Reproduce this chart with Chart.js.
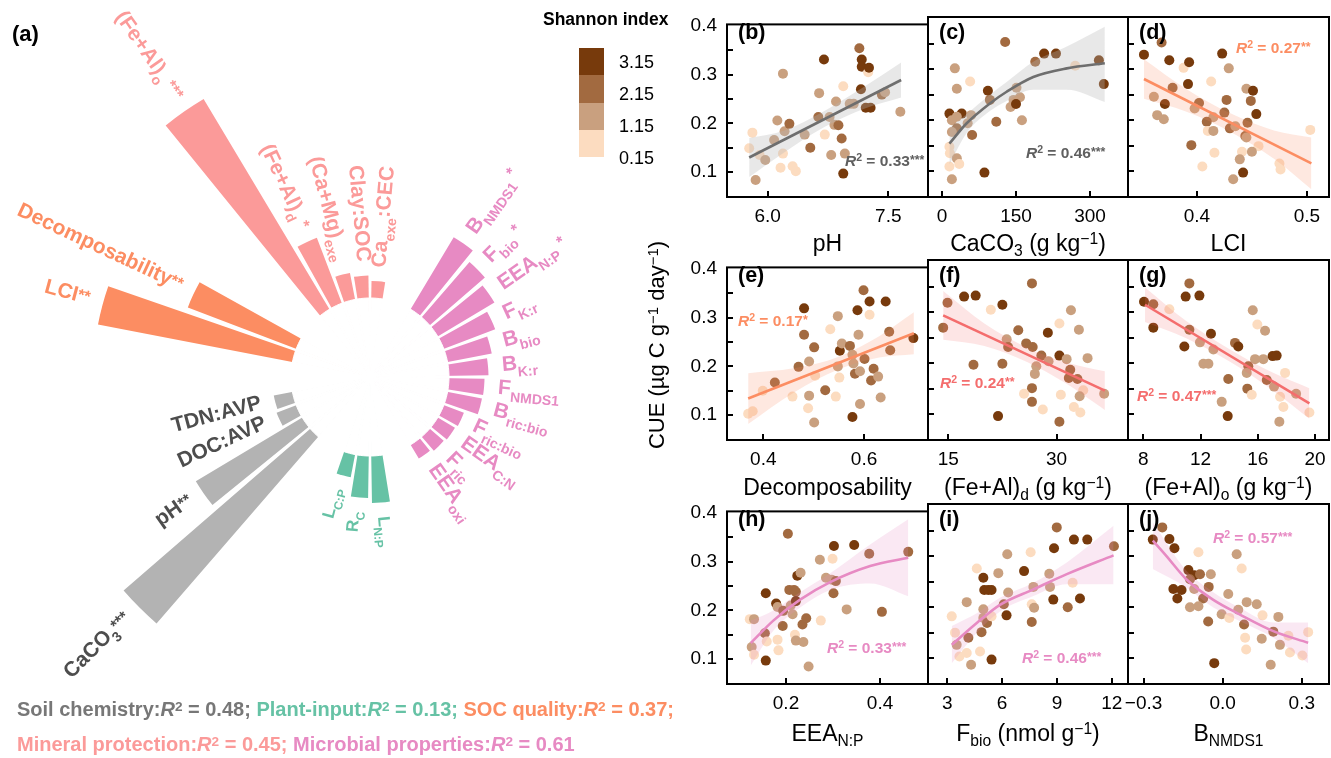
<!DOCTYPE html>
<html>
<head>
<meta charset="utf-8">
<script src="https://cdn.jsdelivr.net/npm/chart.js@4.4.1/dist/chart.umd.min.js"></script>
<style>
  body { margin: 0; background: #fff; }
  #wrap { position: relative; width: 1331px; height: 758px; overflow: hidden; font-family: "Liberation Sans", Arial, sans-serif; }
  #wrap canvas { position: absolute; }
  .t { position: absolute; white-space: nowrap; line-height: 1; }
  .t sub { font-size: 0.68em; vertical-align: baseline; position: relative; top: 0.32em; line-height: 0; }
  .t sup { font-size: 0.68em; vertical-align: baseline; position: relative; top: -0.42em; line-height: 0; }
  .st { font-size: 0.8em; position: relative; top: -0.12em; }
  .box { position: absolute; }
</style>
</head>
<body>
<div id="wrap">
  <canvas id="radial" width="740" height="758" style="left:0;top:0"></canvas>
</div>
<script>
var FONT = '"Liberation Sans", Arial, Helvetica, sans-serif';

// ---------- panel (a): importance of predictors, one 10 degree slot each ('' = empty slot) ----------
var predictors = ['LCI^{**}', 'Decomposability^{**}', '', '',
  '(Fe+Al)_{o}^{ ***}', '(Fe+Al)_{d}^{ *}', '(Ca+Mg)_{exe}', 'Clay:SOC', 'Ca_{exe}:CEC', '', '',
  'B_{NMDS1}^{ *}', 'F_{bio}^{ *}', 'EEA_{N:P}^{ *}', 'F_{K:r}', 'B_{bio}', 'B_{K:r}', 'F_{NMDS1}',
  'B_{ric:bio}', 'F_{ric:bio}', 'EEA_{C:N}', 'F_{ric}', 'EEA_{oxi}', '', '',
  'L_{N:P}', 'R_{C}', 'L_{C:P}', '', '',
  'CaCO_{3}^{***}', 'pH^{**}', 'DOC:AVP', 'TDN:AVP', '', ''];
var importance = [19.8, 11.6, null, null,
  24.5, 7.0, 2.7, 2.25, 1.7, null, null,
  8.4, 7.3, 6.6, 5.5, 4.5, 3.95, 3.55, 3.5, 2.15, 2.0, 1.85, 1.6, null, null,
  4.7, 4.2, 2.3, null, null,
  24.7, 12.4, 2.1, 1.9, null, null];
var predictorGroup = [2, 2, -1, -1, 3, 3, 3, 3, 3, -1, -1,
  4, 4, 4, 4, 4, 4, 4, 4, 4, 4, 4, 4, -1, -1, 1, 1, 1, -1, -1, 0, 0, 0, 0, -1, -1];
var groupNames = ['Soil chemistry', 'Plant-input', 'SOC quality', 'Mineral protection', 'Microbial properties'];
var groupR2 = ['0.48', '0.13', '0.37', '0.45', '0.61'];
var groupBarColors = ['#b3b3b3', '#66c2a5', '#fc8d62', '#fb9a99', '#e78ac3'];
var groupTextColors = ['#4d4d4d', '#66c2a5', '#fc8d62', '#fb9a99', '#e78ac3'];
var groupLegendColors = ['#777777', '#66c2a5', '#fc8d62', '#fb9a99', '#e78ac3'];

// ---------- Shannon index colour classes ----------
var shannonTicks = ['3.15', '2.15', '1.15', '0.15'];
var shannonColors = ['#fcdcc0', '#c9a07f', '#a26a40', '#773a0c']; // class 0..3 (low -> high)

// ---------- scatter panels: x, CUE, Shannon class ----------
var pH_x = [5.77,5.81,5.85,5.90,5.97,6.08,6.12,6.19,6.19,6.16,6.21,6.27,6.31,6.35,6.46,6.53,6.64,6.63,6.70,6.71,6.77,6.79,6.85,6.83,6.88,6.92,6.94,6.96,6.94,7.02,7.07,7.14,7.17,7.17,7.16,7.25,7.26,7.22,7.28,7.42,7.46,7.65];
var pH_cue = [.149,.181,.084,.135,.125,.166,.206,.302,.138,.109,.184,.199,.112,.102,.177,.150,.262,.213,.331,.177,.213,.135,.245,.197,.196,.169,.276,.138,.097,.240,.240,.354,.331,.316,.270,.305,.314,.232,.232,.259,.264,.224];
var pH_sh = [0,0,1,0,1,1,1,1,0,0,1,2,0,0,1,2,1,2,3,0,1,1,1,1,2,2,0,1,3,1,1,2,3,3,3,0,3,3,3,2,1,1];
var pH_fitX = [5.77, 7.66], pH_fitY = [0.130, 0.289];
var pH_bandX = [5.77, 6.2, 6.7, 7.2, 7.66], pH_lo = [0.090, 0.140, 0.192, 0.230, 0.253], pH_hi = [0.170, 0.185, 0.225, 0.275, 0.325];

var caco3_x = [26,30,15,40,30,20,30,20,15,16,30,15,35,20,57,59,61,52,86,93,97,110,128,139,151,145,158,150,162,189,207,231,270,318,328];
var caco3_cue = [.302,.262,.213,.213,.207,.200,.184,.177,.148,.135,.125,.109,.114,.084,.276,.210,.171,.194,.097,.258,.240,.197,.354,.226,.264,.240,.245,.232,.200,.315,.331,.331,.307,.318,.271];
var caco3_sh = [1,1,3,3,1,1,2,1,0,0,1,0,0,1,0,1,2,1,3,3,2,2,2,1,1,1,1,3,1,2,3,3,0,3,3];
var caco3_fitX = [15, 50, 97, 131, 185, 253, 330], caco3_fitY = [0.154, 0.194, 0.233, 0.256, 0.285, 0.302, 0.312];
var caco3_bandX = caco3_fitX, caco3_lo = [0.113, 0.175, 0.218, 0.238, 0.260, 0.260, 0.236], caco3_hi = [0.185, 0.212, 0.250, 0.275, 0.315, 0.345, 0.384];

var lci_x = [0.352,0.368,0.375,0.388,0.393,0.392,0.378,0.361,0.371,0.364,0.370,0.402,0.398,0.413,0.423,0.429,0.427,0.425,0.415,0.409,0.410,0.415,0.430,0.435,0.395,0.416,0.405,0.445,0.451,0.449,0.454,0.446,0.444,0.445,0.456,0.450,0.441,0.439,0.442,0.433,0.475,0.476,0.503];
var lci_cue = [.329,.353,.318,.303,.314,.271,.264,.246,.232,.210,.202,.234,.223,.276,.331,.302,.240,.215,.206,.197,.179,.179,.184,.188,.151,.136,.109,.262,.258,.238,.212,.195,.169,.166,.149,.138,.138,.123,.097,.084,.115,.103,.181];
var lci_sh = [3,2,3,0,3,3,2,1,3,1,1,2,1,0,3,1,2,2,1,2,0,1,2,1,2,0,0,1,3,2,3,2,2,1,0,1,0,1,3,1,0,0,0];
var lci_fitX = [0.352, 0.504], lci_fitY = [0.281, 0.115];
var lci_bandX = [0.352, 0.39, 0.43, 0.47, 0.504], lci_lo = [0.242, 0.217, 0.178, 0.124, 0.064], lci_hi = [0.320, 0.262, 0.214, 0.180, 0.166];

var dec_x = [0.370,0.379,0.399,0.423,0.458,0.470,0.481,0.481,0.491,0.491,0.489,0.501,0.503,0.501,0.523,0.533,0.544,0.548,0.548,0.551,0.552,0.556,0.572,0.577,0.579,0.582,0.577,0.589,0.587,0.592,0.592,0.599,0.601,0.611,0.611,0.614,0.619,0.628,0.633,0.643,0.650,0.652,0.698];
var dec_cue = [.103,.108,.150,.167,.138,.199,.319,.265,.210,.140,.114,.239,.181,.085,.151,.276,.138,.303,.200,.177,.232,.247,.242,.224,.206,.185,.096,.265,.315,.190,.123,.356,.215,.333,.306,.171,.195,.179,.136,.333,.271,.233,.258];
var dec_sh = [0,0,0,2,0,2,3,2,1,1,0,2,0,1,2,0,0,1,1,0,3,1,2,1,1,2,3,1,3,1,1,2,2,3,0,2,2,1,1,3,2,2,3];
var dec_fitX = [0.370, 0.699], dec_fitY = [0.134, 0.268];
var dec_bandX = [0.37, 0.46, 0.55, 0.63, 0.699], dec_lo = [0.082, 0.146, 0.194, 0.218, 0.225], dec_hi = [0.186, 0.196, 0.220, 0.262, 0.311];

var feald_x = [14.3,14.9,17.2,18.8,20.9,22.5,18.5,22.5,21.9,23.1,23.3,24.7,26.6,25.8,26.7,27.9,28.8,30.4,28.9,27.2,27.0,26.6,26.6,25.5,28.1,30.4,30.6,30.4,31.4,32.0,33.1,31.9,31.7,32.9,33.7,33.2,32.4,33.3,34.3,36.6];
var feald_cue = [.270,.319,.331,.333,.305,.315,.197,.199,.096,.247,.232,.265,.357,.239,.232,.215,.260,.215,.204,.194,.179,.151,.124,.140,.109,.085,.138,.278,.208,.304,.266,.187,.171,.169,.147,.135,.114,.103,.210,.140];
var feald_sh = [2,2,3,3,0,3,2,2,3,1,2,2,2,2,2,2,3,3,1,1,1,2,2,0,0,2,0,0,1,1,1,2,2,2,0,1,0,0,1,1];
var feald_fitX = [14.3, 36.7], feald_fitY = [0.294, 0.146];
var feald_bandX = [14.3, 20, 26, 31, 36.7], feald_lo = [0.246, 0.234, 0.202, 0.163, 0.108], feald_hi = [0.342, 0.278, 0.230, 0.203, 0.184];

var fealo_x = [8.05,8.70,8.70,9.82,11.22,10.96,11.92,11.22,10.87,11.96,12.73,12.20,12.55,12.90,13.94,13.90,13.48,14.41,14.64,15.65,15.97,16.51,15.81,16.39,15.34,15.23,15.27,15.58,16.63,17.04,17.32,17.14,17.91,17.56,17.79,17.51,18.68,19.61];
var fealo_cue = [.321,.316,.270,.306,.357,.331,.333,.266,.233,.241,.258,.199,.199,.227,.169,.096,.124,.240,.233,.304,.276,.264,.208,.208,.194,.181,.150,.138,.167,.214,.215,.154,.181,.134,.114,.085,.140,.103];
var fealo_sh = [3,2,3,0,2,3,3,2,3,1,3,1,1,1,2,3,1,2,3,1,0,1,1,1,2,1,2,0,2,3,3,1,0,0,0,1,1,0];
var fealo_fitX = [8.12, 19.61], fealo_fitY = [0.315, 0.121];
var fealo_bandX = [8.12, 11, 14, 17, 19.61], fealo_lo = [0.281, 0.249, 0.204, 0.148, 0.091], fealo_hi = [0.349, 0.283, 0.228, 0.182, 0.151];

var eeanp_x = [0.123,0.132,0.127,0.132,0.155,0.157,0.157,0.159,0.182,0.184,0.179,0.182,0.193,0.194,0.204,0.207,0.217,0.221,0.224,0.231,0.214,0.210,0.221,0.219,0.221,0.237,0.235,0.243,0.248,0.274,0.272,0.299,0.285,0.297,0.306,0.301,0.302,0.329,0.345,0.377,0.404,0.460];
var eeanp_cue = [.182,.182,.125,.109,.153,.235,.097,.136,.140,.118,.214,.207,.168,.199,.357,.242,.242,.238,.271,.277,.192,.210,.219,.150,.138,.135,.171,.184,.085,.179,.304,.306,.267,.263,.260,.235,.332,.202,.334,.316,.197,.320];
var eeanp_sh = [0,1,1,0,2,3,3,0,0,0,3,1,2,2,2,2,2,2,3,1,1,1,3,0,1,1,2,2,1,0,1,0,1,1,2,2,3,1,3,2,2,2];
var eeanp_fitX = [0.125, 0.173, 0.230, 0.294, 0.379, 0.460], eeanp_fitY = [0.133, 0.179, 0.222, 0.258, 0.291, 0.308];
var eeanp_bandX = eeanp_fitX, eeanp_lo = [0.087, 0.158, 0.206, 0.242, 0.255, 0.229], eeanp_hi = [0.179, 0.200, 0.237, 0.276, 0.335, 0.387];

var fbio_x = [3.24,3.42,3.51,3.66,4.06,4.15,4.30,4.61,4.06,4.79,4.97,5.02,5.24,5.42,4.97,4.97,5.17,4.87,5.42,5.42,5.79,6.28,6.33,6.24,6.09,7.56,7.20,7.71,7.62,7.75,7.62,8.58,8.62,8.80,8.84,8.99,9.59,9.86,9.93,10.26,10.66,12.12];
var fbio_cue = [.182,.150,.126,.103,.210,.140,.087,.276,.110,.113,.258,.234,.234,.234,.196,.179,.169,.151,.097,.182,.267,.304,.229,.184,.206,.308,.271,.240,.206,.199,.171,.266,.240,.215,.316,.357,.200,.248,.333,.217,.333,.320];
var fbio_sh = [0,0,1,0,1,2,1,0,0,0,3,3,3,3,1,1,2,2,3,0,1,1,1,3,2,0,3,1,0,1,2,1,1,3,3,2,2,0,3,3,3,2];
var fbio_fitX = [3.24, 4.61, 5.9, 7.71, 9.54, 12.1], fbio_fitY = [0.126, 0.169, 0.205, 0.235, 0.265, 0.302];
var fbio_bandX = fbio_fitX, fbio_lo = [0.090, 0.150, 0.192, 0.222, 0.245, 0.245], fbio_hi = [0.163, 0.188, 0.219, 0.248, 0.288, 0.360];

var bnmds_x = [-0.265,-0.229,-0.202,-0.183,-0.130,-0.108,-0.124,-0.086,-0.045,-0.092,-0.187,-0.156,-0.172,-0.108,-0.053,-0.074,-0.124,-0.092,-0.055,-0.032,-0.004,0.021,0.053,0.072,0.059,0.025,0.081,0.091,0.129,0.085,0.089,0.148,0.151,0.182,0.192,0.211,0.217,0.249,0.255,0.302,0.324];
var bnmds_cue = [.333,.357,.334,.316,.273,.263,.255,.265,.265,.308,.236,.234,.217,.236,.240,.217,.200,.202,.172,.090,.186,.226,.304,.276,.195,.179,.166,.210,.206,.140,.117,.138,.184,.087,.152,.181,.126,.144,.111,.105,.151];
var bnmds_sh = [3,2,3,3,3,3,2,2,1,0,3,3,3,1,2,2,1,1,2,3,1,1,1,0,1,0,2,1,1,0,0,1,0,1,2,1,1,0,0,0,0];
var bnmds_fitX = [-0.265, -0.214, -0.138, -0.037, 0.064, 0.192, 0.324], bnmds_fitY = [0.331, 0.301, 0.255, 0.215, 0.186, 0.153, 0.130];
var bnmds_bandX = [-0.265, -0.138, -0.037, 0.064, 0.192, 0.324], bnmds_lo = [0.275, 0.239, 0.200, 0.173, 0.140, 0.090], bnmds_hi = [0.367, 0.272, 0.230, 0.199, 0.170, 0.170];

var cueTicks = [0.1, 0.2, 0.3, 0.4];
var cueMinorTicks = [0.1, 0.15, 0.2, 0.25, 0.3, 0.35];

var wrap = document.getElementById('wrap');

// ---------- panel (a) radial bar chart ----------
var R_MIN = -7.9, R_MAX = 25.1;   // 0 sits on the inner hole edge
var SLOT = 10, BAR = 8.2;
var elemVals = [], elemAngles = [], elemColors = [], elemLabels = [];
predictors.forEach(function (p, i) {
  elemVals.push(importance[i] === null ? R_MIN : importance[i]);
  elemAngles.push(BAR);
  elemColors.push(predictorGroup[i] < 0 ? 'rgba(0,0,0,0)' : groupBarColors[predictorGroup[i]]);
  elemLabels.push(p);
  elemVals.push(R_MIN);            // spacer between bars
  elemAngles.push(SLOT - BAR);
  elemColors.push('rgba(0,0,0,0)');
  elemLabels.push('');
});

function parseRich(s) {
  var out = [], re = /([_^])\{([^}]*)\}|([^_^]+)/g, m;
  while ((m = re.exec(s)) !== null) {
    if (m[3] !== undefined) out.push({t: m[3], k: 'n'});
    else out.push({t: m[2], k: m[1] === '_' ? 's' : 'p'});
  }
  return out;
}

var radialLabels = {
  id: 'radialLabels',
  afterDatasetsDraw: function (chart) {
    var ctx = chart.ctx;
    var arcs = chart.getDatasetMeta(1).data;
    predictors.forEach(function (name, i) {
      if (!name) return;
      var arc = arcs[2 * i];
      var mid = (arc.startAngle + arc.endAngle) / 2;
      var g = predictorGroup[i];
      var sz = g === 1 ? {n: 17, s: 12, p: 13} : {n: 21, s: 14, p: 16};
      var segs = parseRich(name), w = 0;
      segs.forEach(function (sg) {
        ctx.font = 'bold ' + sz[sg.k] + 'px ' + FONT;
        sg.w = ctx.measureText(sg.t).width;
        w += sg.w;
      });
      var left = Math.cos(mid) < 0;
      var r = arc.outerRadius + 14;
      ctx.save();
      ctx.translate(arc.x, arc.y);
      ctx.rotate(left ? mid - Math.PI : mid);
      ctx.fillStyle = groupTextColors[g];
      ctx.textBaseline = 'alphabetic';
      var x = left ? -r - w : r;
      var base = sz.n * 0.36 + (left ? -5 : -2);
      segs.forEach(function (sg) {
        ctx.font = 'bold ' + sz[sg.k] + 'px ' + FONT;
        var dy = sg.k === 's' ? 0.33 * sz.n : (sg.k === 'p' ? -0.1 * sz.n : 0);
        ctx.fillText(sg.t, x, base + dy);
        x += sg.w;
      });
      ctx.restore();
    });
  }
};

new Chart(document.getElementById('radial'), {
  type: 'polarArea',
  data: {
    labels: elemLabels,
    datasets: [
      { // white hole in the middle
        data: elemVals.map(function () { return 0; }),
        backgroundColor: '#ffffff', borderColor: '#ffffff', borderWidth: 1,
        angle: function (c) { return elemAngles[c.dataIndex]; }
      },
      {
        data: elemVals,
        backgroundColor: elemColors, borderWidth: 0,
        angle: function (c) { return elemAngles[c.dataIndex]; }
      }
    ]
  },
  options: {
    responsive: false, animation: false, events: [],
    layout: { padding: { left: 40, right: 40, top: 47, bottom: 51 } },
    plugins: { legend: { display: false }, tooltip: { enabled: false } },
    scales: {
      r: {
        min: R_MIN, max: R_MAX, startAngle: 280.9,
        ticks: { display: false }, grid: { display: false },
        angleLines: { display: false }, pointLabels: { display: false }
      }
    }
  },
  plugins: [radialLabels]
});

// ---------- scatter panels (b)-(j) ----------
var colLeft = [727, 928, 1128], colWidth = [201, 200, 201];
var rowTop = [17, 260, 504], rowHeight = 180;
var CUE_MIN = 0.049, CUE_MAX = 0.403;
var fitStyles = {
  gray:   { line: '#6e6e6e', band: 'rgba(185,185,185,0.32)', text: '#5f5f5f' },
  orange: { line: '#fc8d62', band: 'rgba(252,141,98,0.2)',   text: '#fc8d62' },
  red:    { line: '#f46d6d', band: 'rgba(244,109,109,0.18)', text: '#f46d6d' },
  pink:   { line: '#e78ac3', band: 'rgba(231,138,195,0.2)',  text: '#e78ac3' }
};

var panels = [
  { tag: '(b)', x: pH_x, y: pH_cue, sh: pH_sh, fx: pH_fitX, fy: pH_fitY, bx: pH_bandX, lo: pH_lo, hi: pH_hi,
    xr: [5.494, 7.994], xt: [6.0, 7.5], dec: 1, curve: false, st: 'gray',
    title: 'pH', r2: '0.33', stars: '***', r2at: [845, 166] },
  { tag: '(c)', x: caco3_x, y: caco3_cue, sh: caco3_sh, fx: caco3_fitX, fy: caco3_fitY, bx: caco3_bandX, lo: caco3_lo, hi: caco3_hi,
    xr: [-28.4, 377], xt: [0, 150, 300], dec: 0, curve: true, st: 'gray',
    title: 'CaCO<sub>3</sub> (g kg<sup>\u22121</sup>)', r2: '0.46', stars: '***', r2at: [1026, 158] },
  { tag: '(d)', x: lci_x, y: lci_cue, sh: lci_sh, fx: lci_fitX, fy: lci_fitY, bx: lci_bandX, lo: lci_lo, hi: lci_hi,
    xr: [0.3375, 0.520], xt: [0.4, 0.5], dec: 1, curve: false, st: 'orange',
    title: 'LCI', r2: '0.27', stars: '**', r2at: [1236, 53] },
  { tag: '(e)', x: dec_x, y: dec_cue, sh: dec_sh, fx: dec_fitX, fy: dec_fitY, bx: dec_bandX, lo: dec_lo, hi: dec_hi,
    xr: [0.328, 0.727], xt: [0.4, 0.6], dec: 1, curve: false, st: 'orange',
    title: 'Decomposability', r2: '0.17', stars: '*', r2at: [738, 326] },
  { tag: '(f)', x: feald_x, y: feald_cue, sh: feald_sh, fx: feald_fitX, fy: feald_fitY, bx: feald_bandX, lo: feald_lo, hi: feald_hi,
    xr: [12.2, 39.9], xt: [15, 30], dec: 0, curve: false, st: 'red',
    title: '(Fe+Al)<sub>d</sub> (g kg<sup>\u22121</sup>)', r2: '0.24', stars: '**', r2at: [940, 388] },
  { tag: '(g)', x: fealo_x, y: fealo_cue, sh: fealo_sh, fx: fealo_fitX, fy: fealo_fitY, bx: fealo_bandX, lo: fealo_lo, hi: fealo_hi,
    xr: [6.93, 20.98], xt: [8, 12, 16, 20], dec: 0, curve: false, st: 'red',
    title: '(Fe+Al)<sub>o</sub> (g kg<sup>\u22121</sup>)', r2: '0.47', stars: '***', r2at: [1137, 401] },
  { tag: '(h)', x: eeanp_x, y: eeanp_cue, sh: eeanp_sh, fx: eeanp_fitX, fy: eeanp_fitY, bx: eeanp_bandX, lo: eeanp_lo, hi: eeanp_hi,
    xr: [0.0745, 0.502], xt: [0.2, 0.4], dec: 1, curve: true, st: 'pink',
    title: 'EEA<sub>N:P</sub>', r2: '0.33', stars: '***', r2at: [827, 653] },
  { tag: '(i)', x: fbio_x, y: fbio_cue, sh: fbio_sh, fx: fbio_fitX, fy: fbio_fitY, bx: fbio_bandX, lo: fbio_lo, hi: fbio_hi,
    xr: [1.94, 12.89], xt: [3, 6, 9, 12], dec: 0, curve: true, st: 'pink',
    title: 'F<sub>bio</sub> (nmol g<sup>\u22121</sup>)', r2: '0.46', stars: '***', r2at: [1022, 663] },
  { tag: '(j)', x: bnmds_x, y: bnmds_cue, sh: bnmds_sh, fx: bnmds_fitX, fy: bnmds_fitY, bx: bnmds_bandX, lo: bnmds_lo, hi: bnmds_hi,
    xr: [-0.359, 0.403], xt: [-0.3, 0, 0.3], dec: 1, curve: true, st: 'pink',
    title: 'B<sub>NMDS1</sub>', r2: '0.57', stars: '***', r2at: [1213, 543] }
];
var titleBaselines = [251, 495, 741];

function fmtTick(v, dec) {
  return (v < 0 ? '\u2212' : '') + Math.abs(v).toFixed(dec);
}
function xy(xs, ys) {
  return xs.map(function (v, i) { return { x: v, y: ys[i] }; });
}
function addText(html, x, baseline, size, style) {
  var d = document.createElement('div');
  d.className = 't';
  d.innerHTML = html;
  d.style.left = x + 'px';
  d.style.top = (baseline - 0.8465 * size) + 'px';
  d.style.fontSize = size + 'px';
  if (style) d.style.cssText += style;
  wrap.appendChild(d);
  return d;
}

panels.forEach(function (p, idx) {
  var col = idx % 3, row = Math.floor(idx / 3);
  var L = colLeft[col], T = rowTop[row], W = colWidth[col], H = rowHeight;
  var padL = 50, padT = 14, padR = 12, padB = 46;
  var cv = document.createElement('canvas');
  cv.width = W + padL + padR;
  cv.height = H + padT + padB;
  cv.style.left = (L - padL) + 'px';
  cv.style.top = (T - padT) + 'px';
  wrap.appendChild(cv);
  var st = fitStyles[p.st];

  var framePlugin = {
    id: 'frame' + idx,
    afterDraw: function (chart) {
      var ctx = chart.ctx, a = chart.chartArea, sx = chart.scales.x, sy = chart.scales.y;
      ctx.save();
      ctx.strokeStyle = '#000';
      ctx.lineWidth = 2;
      ctx.beginPath();
      cueMinorTicks.forEach(function (v) {
        var py = Math.round(sy.getPixelForValue(v));
        ctx.moveTo(a.left, py); ctx.lineTo(a.left + 6, py);
      });
      p.xt.forEach(function (v) {
        var px = Math.round(sx.getPixelForValue(v));
        ctx.moveTo(px, a.bottom); ctx.lineTo(px, a.bottom - 6);
      });
      ctx.stroke();
      ctx.strokeRect(a.left, a.top, a.right - a.left, a.bottom - a.top);
      ctx.restore();
    }
  };

  new Chart(cv, {
    type: 'scatter',
    data: {
      datasets: [
        { type: 'line', data: xy(p.fx, p.fy), borderColor: st.line, borderWidth: 2.6, pointRadius: 0, fill: false,
          tension: p.curve ? 0.4 : 0, cubicInterpolationMode: p.curve ? 'monotone' : 'default' },
        { type: 'line', data: xy(p.bx, p.hi), borderColor: 'rgba(0,0,0,0)', borderWidth: 0, pointRadius: 0,
          fill: '+1', backgroundColor: st.band, cubicInterpolationMode: 'monotone' },
        { type: 'line', data: xy(p.bx, p.lo), borderColor: 'rgba(0,0,0,0)', borderWidth: 0, pointRadius: 0,
          fill: false, cubicInterpolationMode: 'monotone' },
        { data: xy(p.x, p.y), pointRadius: 5, pointBorderWidth: 0,
          pointBackgroundColor: p.sh.map(function (k) { return shannonColors[k]; }) }
      ]
    },
    options: {
      responsive: false, animation: false, events: [],
      layout: { padding: { left: 0, top: padT, right: padR, bottom: 0 } },
      plugins: { legend: { display: false }, tooltip: { enabled: false } },
      scales: {
        x: {
          type: 'linear', min: p.xr[0], max: p.xr[1],
          grid: { display: false, drawTicks: false }, border: { display: false },
          afterBuildTicks: function (s) { s.ticks = p.xt.map(function (v) { return { value: v }; }); },
          afterFit: function (s) { s.height = padB; },
          ticks: { autoSkip: false, maxRotation: 0, padding: 8, color: '#000',
            font: { family: FONT, size: 19 },
            callback: function (v) { return fmtTick(v, p.dec); } }
        },
        y: {
          min: CUE_MIN, max: CUE_MAX,
          grid: { display: false, drawTicks: false }, border: { display: false },
          afterBuildTicks: function (s) { s.ticks = cueTicks.map(function (v) { return { value: v }; }); },
          afterFit: function (s) { s.width = padL; },
          ticks: { display: col === 0, padding: 10, color: '#000',
            font: { family: FONT, size: 19 },
            callback: function (v) { return v.toFixed(1); } }
        }
      }
    },
    plugins: [framePlugin]
  });

  // panel letter, R2 label and x axis title
  addText(p.tag, L + 11, T + 23, 21.5, 'font-weight:bold;');
  addText('<i>R</i><sup>2</sup> = ' + p.r2 + '<span class="st">' + p.stars + '</span>',
    p.r2at[0], p.r2at[1], 15.5, 'font-weight:bold;color:' + st.text + ';');
  var t = addText(p.title, L + W / 2, titleBaselines[row], 23);
  t.style.transform = 'translateX(-50%)';
});

// y axis title
var yt = addText('CUE (\u00b5g C g<sup>\u22121</sup> day<sup>\u22121</sup>)', 657, 345, 22);
yt.style.top = '345px';
yt.style.transform = 'translate(-50%, -50%) rotate(-90deg)';

// (a) tag
addText('(a)', 12, 42, 22, 'font-weight:bold;');

// Shannon index legend
addText('Shannon index', 543, 25.5, 17.5, 'font-weight:bold;');
var legendCenters = [62, 94, 126, 157.5];
shannonTicks.forEach(function (lab, i) {
  var b = document.createElement('div');
  b.className = 'box';
  b.style.left = '579px';
  b.style.top = (48 + i * 27.3) + 'px';
  b.style.width = '25px';
  b.style.height = '27.6px';
  b.style.background = shannonColors[3 - i];
  wrap.appendChild(b);
  addText(lab, 619, legendCenters[i] + 6.4, 18);
});

// group R2 summary lines (same condensed scale on both lines)
function groupSpan(g, last) {
  return '<span style="color:' + groupLegendColors[g] + '">' + groupNames[g] + ':<i>R</i><sup>2</sup> = ' +
    groupR2[g] + (last ? '' : ';') + '</span>';
}
var legendFont = 'font-weight:bold;font-family:"Liberation Sans",Arial,sans-serif;transform-origin:0 0;';
var line1 = addText(groupSpan(0) + ' ' + groupSpan(1) + ' ' + groupSpan(2), 17, 717, 19.5, legendFont);
var line2 = addText(groupSpan(3) + ' ' + groupSpan(4, true), 17, 752, 19.5, legendFont);
var w1 = line1.getBoundingClientRect().width;
if (w1 > 0) {
  var k = (657 / w1).toFixed(4);
  line1.style.transform = 'scaleX(' + k + ')';
  line2.style.transform = 'scaleX(' + k + ')';
}
</script>
</body>
</html>
